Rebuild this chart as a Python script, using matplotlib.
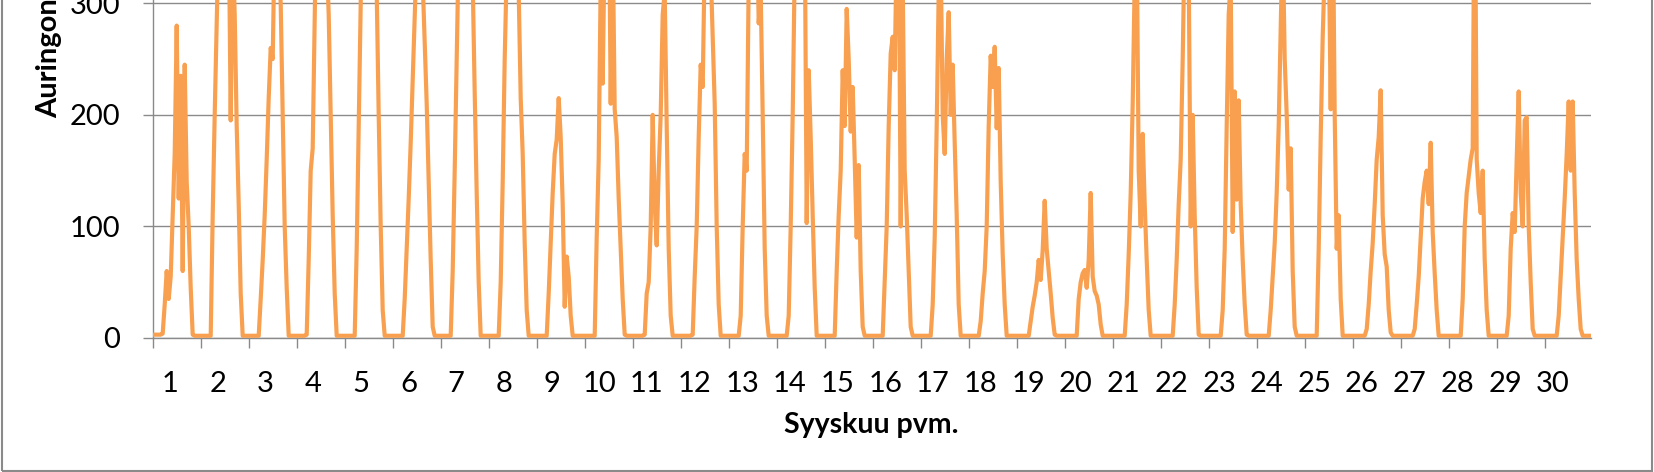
import numpy as np
import matplotlib
matplotlib.use("Agg")
import matplotlib.pyplot as plt
from matplotlib.patches import Rectangle

plt.rcParams['font.family'] = ['Lato', 'DejaVu Sans']

# Hourly solar radiation (W/m2), September, one list per day (hours 0..23)
d01 = [3,3,3,3,3,4,30,60,35,55,110,165,280,125,235,60,245,140,100,45,3,2,2,2]
d02 = [2,2,2,2,2,2,110,200,280,370,440,480,490,470,380,195,350,290,190,120,40,2,2,2]
d03 = [2,2,2,2,2,2,35,70,110,160,215,260,250,360,400,340,300,200,100,45,2,2,2,2]
d04 = [2,2,2,2,2,3,70,150,170,290,380,440,470,460,420,340,290,200,110,40,2,2,2,2]
d05 = [2,2,2,2,2,2,80,190,300,390,450,490,500,490,450,380,310,200,100,25,2,2,2,2]
d06 = [2,2,2,2,2,2,35,80,125,175,230,285,350,390,370,320,265,210,140,70,10,2,2,2]
d07 = [2,2,2,2,2,2,60,150,250,350,430,480,500,490,450,390,320,220,130,50,2,2,2,2]
d08 = [2,2,2,2,2,2,50,140,250,330,400,440,450,430,380,310,215,165,85,25,2,2,2,2]
d09 = [2,2,2,2,2,2,40,85,130,165,178,215,180,120,28,73,55,20,2,2,2,2,2,2]
d10 = [2,2,2,2,2,2,90,160,320,228,360,400,420,210,360,205,180,125,80,35,3,2,2,2]
d11 = [2,2,2,2,2,2,3,40,50,100,200,120,83,150,200,290,310,190,80,20,2,2,2,2]
d12 = [2,2,2,2,2,2,3,55,100,180,245,225,340,380,370,330,270,210,100,30,2,2,2,2]
d13 = [2,2,2,2,2,2,20,100,165,150,320,390,430,430,390,282,310,200,80,20,2,2,2,2]
d14 = [2,2,2,2,2,2,20,100,200,330,410,460,470,450,380,103,240,180,110,45,2,2,2,2]
d15 = [2,2,2,2,2,2,60,110,150,240,190,295,250,185,225,160,90,155,60,10,2,2,2,2]
d16 = [2,2,2,2,2,2,50,100,190,255,270,240,350,380,100,320,150,110,60,10,2,2,2,2]
d17 = [2,2,2,2,2,2,30,90,190,310,340,200,165,250,292,200,245,175,110,30,2,2,2,2]
d18 = [2,2,2,2,2,2,15,40,60,100,190,253,225,261,188,242,140,75,30,2,2,2,2,2]
d19 = [2,2,2,2,2,2,2,15,28,38,50,70,52,79,123,80,60,40,18,3,2,2,2,2]
d20 = [2,2,2,2,2,2,2,35,50,58,61,45,70,130,55,42,38,30,12,2,2,2,2,2]
d21 = [2,2,2,2,2,2,2,30,75,130,210,320,360,150,100,183,120,70,25,2,2,2,2,2]
d22 = [2,2,2,2,2,2,2,30,70,120,160,250,360,400,330,100,200,110,45,3,2,2,2,2]
d23 = [2,2,2,2,2,2,2,25,80,190,290,320,95,221,124,213,120,70,30,3,2,2,2,2]
d24 = [2,2,2,2,2,2,2,25,55,85,130,190,280,360,250,200,133,170,60,10,2,2,2,2]
d25 = [2,2,2,2,2,2,2,80,180,270,330,380,360,205,400,200,80,110,35,2,2,2,2,2]
d26 = [2,2,2,2,2,2,2,8,30,60,85,120,160,180,222,110,75,64,25,5,2,2,2,2]
d27 = [2,2,2,2,2,2,2,8,30,55,90,125,140,150,120,175,95,58,25,2,2,2,2,2]
d28 = [2,2,2,2,2,2,2,35,100,130,145,160,170,450,160,130,112,150,70,25,2,2,2,2]
d29 = [2,2,2,2,2,2,20,80,112,95,160,221,130,100,195,198,100,50,8,2,2,2,2,2]
d30 = [2,2,2,2,2,2,2,20,55,90,125,165,212,150,212,130,70,35,8,2,2,2,2,2]

days = [d01, d02, d03, d04, d05, d06, d07, d08, d09, d10,
        d11, d12, d13, d14, d15, d16, d17, d18, d19, d20,
        d21, d22, d23, d24, d25, d26, d27, d28, d29, d30]
day_labels = [str(i) for i in range(1, 31)]
y_ticks = [0, 100, 200, 300, 400]

values = np.concatenate([np.array(d, dtype=float) for d in days])
x = np.arange(values.size) / 24.0

W, H = 1654, 472
fig = plt.figure(figsize=(W / 100, H / 100), dpi=100)

px_per_unit = (338 - 3.3) / 300.0
ymax = 400
ax_left, ax_right = 152.7, 1590.7
ax_bottom_px = 338.0
ax = fig.add_axes([ax_left / W, (H - ax_bottom_px) / H,
                   (ax_right - ax_left) / W, ymax * px_per_unit / H])

grey = '#8A8A8A'
ax.plot(x, values, color='#F8A050', lw=3.0, solid_joinstyle='round', zorder=3)

ax.set_xlim(0, (values.size - 1) / 24.0)
ax.set_ylim(0, ymax)

ax.set_yticks(y_ticks)
ax.set_yticklabels([str(v) for v in y_ticks])
ax.yaxis.grid(True, color=grey, lw=1.0)
ax.set_axisbelow(True)

ax.set_xticks(np.arange(len(days)))
ax.set_xticklabels([])
label_pos = [(i) + 0.36 - 0.0066 * i for i in range(len(days))]
ax.set_xticks(label_pos, minor=True)
ax.set_xticklabels(day_labels, minor=True)

ax.tick_params(axis='x', which='major', direction='out', length=7.2, width=1.0, color=grey)
ax.tick_params(axis='x', which='minor', length=0, pad=24, labelsize=21, labelcolor='black')
ax.tick_params(axis='y', which='major', direction='out', length=7.2, width=1.0, color=grey,
               pad=16, labelsize=21, labelcolor='black')

for s in ['top', 'right']:
    ax.spines[s].set_visible(False)
for s in ['left', 'bottom']:
    ax.spines[s].set_color(grey)
    ax.spines[s].set_linewidth(1.0)

fig.text((ax_left + ax_right) / 2 / W, (H - 433) / H, 'Syyskuu pvm.',
         ha='center', va='baseline', fontsize=20.5, fontweight='bold', color='black')
fig.text(57 / W, (H - 118) / H, 'Auringonsäteily (W/m²)', rotation=90,
         rotation_mode='anchor', ha='left', va='baseline',
         fontsize=21, fontweight='bold', color='black')

fig.patches.append(Rectangle((1.5 / W, 1.5 / H), (1650.5) / W, 3.0,
                             transform=fig.transFigure, fill=False,
                             edgecolor=grey, lw=1.5))

fig.savefig('out.png', dpi=100)
